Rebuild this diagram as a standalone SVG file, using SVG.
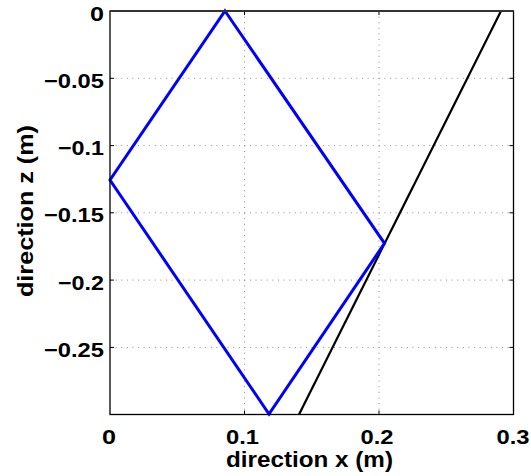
<svg xmlns="http://www.w3.org/2000/svg" width="531" height="476" viewBox="0 0 531 476">
<style>
text{font-family:"Liberation Sans",Arial,sans-serif;font-weight:bold;font-size:20.5px;fill:#000}
.big{font-size:22px}
.grid{stroke:#8a8a8a;stroke-width:1;stroke-dasharray:1 4.6;fill:none}
.tick{stroke:#000;stroke-width:1;fill:none}
.ylab{text-anchor:end}
.xlab{text-anchor:middle}
</style>
<rect width="531" height="476" fill="#fff"/>
<g id="grid">
<line class="grid" x1="110" y1="78.3" x2="513.5" y2="78.3"/>
<line class="grid" x1="110" y1="145.6" x2="513.5" y2="145.6"/>
<line class="grid" x1="110" y1="212.8" x2="513.5" y2="212.8"/>
<line class="grid" x1="110" y1="280.1" x2="513.5" y2="280.1"/>
<line class="grid" x1="110" y1="347.4" x2="513.5" y2="347.4"/>
<line class="grid" x1="244.5" y1="11" x2="244.5" y2="414.5"/>
<line class="grid" x1="379" y1="11" x2="379" y2="414.5"/>
</g>
<g id="ticks">
<path class="tick" d="M110,78.3h4M110,145.6h4M110,212.8h4M110,280.1h4M110,347.4h4M513.5,78.3h-4M513.5,145.6h-4M513.5,212.8h-4M513.5,280.1h-4M513.5,347.4h-4M244.5,414.5v-4M379,414.5v-4M244.5,11v4M379,11v4"/>
</g>
<g id="connectors">
<line id="boundary" x1="501" y1="11" x2="299" y2="414.5" stroke="#000" stroke-width="2.2"/>
<polygon id="diamond" points="225,11 384.5,243.3 269,414 110,180" fill="none" stroke="#0000ff" stroke-width="3" stroke-linejoin="miter"/>
</g>
<g id="axes">
<rect x="110" y="11" width="403.5" height="403.5" fill="none" stroke="#000" stroke-width="1.3"/>
<line x1="110" y1="11" x2="513.5" y2="11" stroke="#333" stroke-width="2"/>
</g>
<g id="yticklabels">
<text class="ylab" x="104" y="20.5" textLength="14" lengthAdjust="spacingAndGlyphs">0</text>
<text class="ylab" x="104" y="87.8" textLength="60" lengthAdjust="spacingAndGlyphs">−0.05</text>
<text class="ylab" x="104" y="155.1" textLength="46" lengthAdjust="spacingAndGlyphs">−0.1</text>
<text class="ylab" x="104" y="222.3" textLength="60" lengthAdjust="spacingAndGlyphs">−0.15</text>
<text class="ylab" x="104" y="289.6" textLength="46" lengthAdjust="spacingAndGlyphs">−0.2</text>
<text class="ylab" x="104" y="356.9" textLength="60" lengthAdjust="spacingAndGlyphs">−0.25</text>
</g>
<g id="xticklabels">
<text class="xlab" x="109" y="443.5" textLength="14" lengthAdjust="spacingAndGlyphs">0</text>
<text class="xlab" x="242.5" y="443.5" textLength="33" lengthAdjust="spacingAndGlyphs">0.1</text>
<text class="xlab" x="377" y="443.5" textLength="33" lengthAdjust="spacingAndGlyphs">0.2</text>
<text class="xlab" x="513" y="443.5" textLength="33" lengthAdjust="spacingAndGlyphs">0.3</text>
</g>
<g id="labels">
<text class="xlab big" x="309.5" y="466.5" textLength="167" lengthAdjust="spacingAndGlyphs">direction x (m)</text>
<text class="xlab big" transform="translate(33,211) rotate(-90)" x="0" y="0" textLength="172" lengthAdjust="spacingAndGlyphs">direction z (m)</text>
</g>
</svg>
